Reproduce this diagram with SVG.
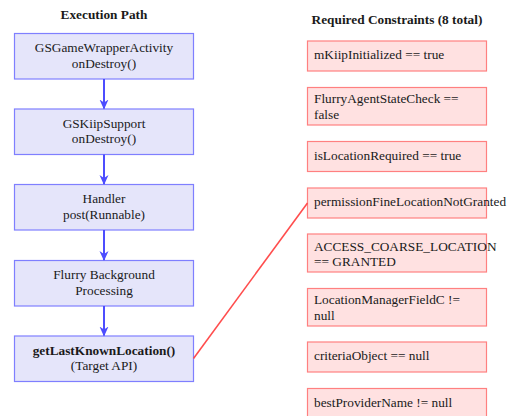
<svg xmlns="http://www.w3.org/2000/svg" width="513" height="416" viewBox="0 0 513 416">
<style>
text{font-family:"Liberation Serif","Times New Roman",serif;font-size:13.3px;fill:#1a1a1a}
.title{font-weight:bold}
.c{text-anchor:middle}
.b{font-weight:bold}
.step rect{fill:#e5e5fa;stroke:#7f7fff;stroke-width:1.2}
.con rect{fill:#ffe1e1;stroke:#ff8080;stroke-width:1.2}
.arrow{stroke:#4d4dff;stroke-width:2;fill:none;marker-end:url(#ah)}
.link{stroke:#ff4d4d;stroke-width:1.6;fill:none}
</style>
<defs>
<marker id="ah" viewBox="0 0 10 10" refX="9" refY="5" markerWidth="10" markerHeight="10" markerUnits="userSpaceOnUse" orient="auto">
<path d="M0,0.5 L10,5 L0,9.5 L3,5 Z" fill="#4d4dff"/>
</marker>
</defs>
<text class="title c" x="104" y="19">Execution Path</text>
<text class="title c" x="397" y="23.5">Required Constraints (8 total)</text>

<g id="step1" class="step"><rect x="14.5" y="33.5" width="179" height="45.5"/><text class="c" x="104" y="52">GSGameWrapperActivity</text><text class="c" x="104" y="67.5">onDestroy()</text></g>
<g id="step2" class="step"><rect x="14.5" y="109" width="179" height="45.5"/><text class="c" x="104" y="127.5">GSKiipSupport</text><text class="c" x="104" y="143">onDestroy()</text></g>
<g id="step3" class="step"><rect x="14.5" y="184.5" width="179" height="45.5"/><text class="c" x="104" y="203">Handler</text><text class="c" x="104" y="218.5">post(Runnable)</text></g>
<g id="step4" class="step"><rect x="14.5" y="260.5" width="179" height="45.5"/><text class="c" x="104" y="279">Flurry Background</text><text class="c" x="104" y="294.5">Processing</text></g>
<g id="step5" class="step"><rect x="14.5" y="336" width="179" height="45.5"/><text class="c b" x="104" y="354.5">getLastKnownLocation()</text><text class="c" x="104" y="370">(Target API)</text></g>

<g id="c1" class="con"><rect x="307.5" y="41" width="179" height="30"/><text x="314" y="59">mKiipInitialized == true</text></g>
<g id="c2" class="con"><rect x="307.5" y="87.5" width="179" height="37.5"/><text x="314" y="102.7">FlurryAgentStateCheck ==</text><text x="314" y="118.7">false</text></g>
<g id="c3" class="con"><rect x="307.5" y="141.5" width="179" height="30"/><text x="314" y="159.5">isLocationRequired == true</text></g>
<g id="c4" class="con"><rect x="307.5" y="188" width="179" height="30"/><text x="314" y="205.5">permissionFineLocationNotGranted</text></g>
<g id="c5" class="con"><rect x="307.5" y="234" width="179" height="38"/><text x="314" y="250.5">ACCESS_COARSE_LOCATION</text><text x="314" y="266">== GRANTED</text></g>
<g id="c6" class="con"><rect x="307.5" y="288.5" width="179" height="37.5"/><text x="314" y="304">LocationManagerFieldC !=</text><text x="314" y="320">null</text></g>
<g id="c7" class="con"><rect x="307.5" y="342" width="179" height="30"/><text x="314" y="360">criteriaObject == null</text></g>
<g id="c8" class="con"><rect x="307.5" y="388.5" width="179" height="30.5"/><text x="314" y="406.5">bestProviderName != null</text></g>

<g id="connectors">
<path class="arrow" d="M104,79 V108.5"/>
<path class="arrow" d="M104,154.5 V184"/>
<path class="arrow" d="M104,230 V260"/>
<path class="arrow" d="M104,306 V335.5"/>
<path class="link" d="M193.5,358.5 L307.5,203"/>
</g>
</svg>
